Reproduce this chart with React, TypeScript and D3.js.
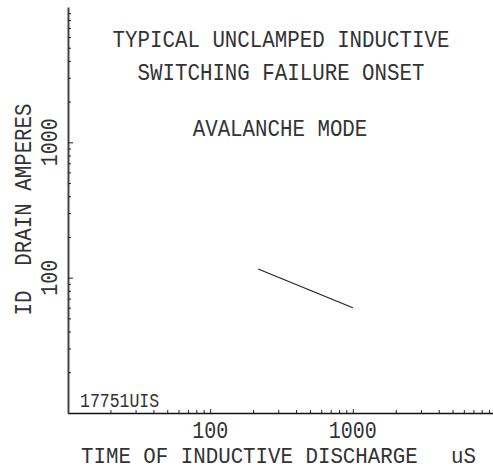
import * as d3 from "d3";
import {useEffect, useRef} from "react";

// curve data (uS, amperes)
const dischargeTime = [217, 1000];
const drainAmps = [116, 60];

const xLabelTicks = [100, 1000];
const yLabelTicks = [100, 1000];
const titleLines = ["TYPICAL UNCLAMPED INDUCTIVE", "SWITCHING FAILURE ONSET"];
const modeLabel = "AVALANCHE MODE";
const xTitle = "TIME OF INDUCTIVE DISCHARGE";
const xUnit = "uS";
const yTitle = "ID  DRAIN AMPERES";
const partCode = "17751UIS";

function App() {
  const ref = useRef<SVGSVGElement>(null);

  useEffect(() => {
    const font = "'Liberation Mono', 'DejaVu Sans Mono', monospace";
    const ink = "#333";

    const svg = d3.select(ref.current);
    svg.selectAll("*").remove();

    // log scales, one decade is ~143px across and ~135px up
    const x = d3.scaleLog().domain([10, 10000]).range([67.5, 495.5]);
    const y = d3.scaleLog().domain([10, 10000]).range([413, 7]);

    // minor ticks (2..9 each decade), pointing inward
    const xTicks = x.ticks().filter(d => d > 10 && d < 10000);
    const yTicks = y.ticks().filter(d => d > 10 && d < 10000);

    const gx = svg.append("g")
      .attr("transform", "translate(0,413)")
      .call(d3.axisBottom(x).tickValues(xTicks).tickSize(-3).tickSizeOuter(0).tickFormat(() => ""));
    gx.select(".domain").attr("stroke", "#111").attr("stroke-width", 1.5);
    gx.selectAll(".tick line")
      .attr("stroke", "#222")
      .attr("y2", (d: any) => (xLabelTicks.includes(d) ? -4 : -3));

    const gy = svg.append("g")
      .attr("transform", "translate(68,0)")
      .call(d3.axisLeft(y).tickValues(yTicks).tickSize(-3).tickSizeOuter(0).tickFormat(() => ""));
    gy.select(".domain").attr("stroke", "#444").attr("stroke-width", 2);
    gy.selectAll(".tick line")
      .attr("stroke", "#222")
      .attr("x2", (d: any) => (yLabelTicks.includes(d) ? 5 : 3));

    // helper for plotter-style text (tall, narrow lettering)
    const label = (tx: number, ty: number, rot: number, size: number, anchor: string, s: string, stretch = 1.18) =>
      svg.append("text")
        .attr("transform", `translate(${tx},${ty}) rotate(${rot}) scale(1,${stretch})`)
        .attr("text-anchor", anchor)
        .attr("font-family", font)
        .attr("font-size", size)
        .attr("fill", ink)
        .style("white-space", "pre")
        .text(s);

    // tick labels
    xLabelTicks.forEach(d => label(x(d), 438, 0, 20, "middle", String(d)));
    yLabelTicks.forEach(d => label(57, y(d), -90, 20, "middle", String(d)));

    // axis titles (bottom line kept clear of the page edge)
    label(81, 463, 0, 20.8, "start", xTitle, 1.08);
    label(451, 463, 0, 20.8, "start", xUnit, 1.08);
    label(31, 209.5, -90, 20.8, "middle", yTitle);

    // titles inside the plot
    titleLines.forEach((t, i) => label(281, 46.5 + i * 33.5, 0, 20.8, "middle", t));
    label(280, 135.5, 0, 20.8, "middle", modeLabel);

    label(80, 407, 0, 16.5, "start", partCode);

    // failure onset line
    const line = d3.line<number>()
      .x(d => x(d))
      .y((d, i) => y(drainAmps[i]));
    svg.append("path")
      .datum(dischargeTime)
      .attr("d", line)
      .attr("fill", "none")
      .attr("stroke", "#222")
      .attr("stroke-width", 1.2);
  }, []);

  return (
    <svg ref={ref} width={493} height={470}
      style={{position: "absolute", left: 0, top: 0, background: "#fff"}} />
  );
}

export default App;
